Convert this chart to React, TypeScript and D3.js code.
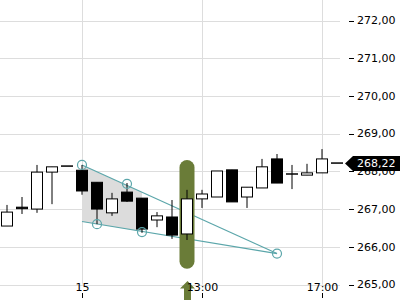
import React from "react";
import * as d3 from "d3";

// ---- data ----
const times = [
  "14 19:30", "14 20:00", "14 20:30", "14 21:00", "14 21:30",
  "15 09:00", "15 09:30", "15 10:00", "15 10:30", "15 11:00", "15 11:30",
  "15 12:00", "15 12:30", "15 13:00", "15 13:30", "15 14:00", "15 14:30",
  "15 15:00", "15 15:30", "15 16:00", "15 16:30", "15 17:00", "15 17:30",
];
const opens = [266.55, 267.05, 267.0, 267.98, 268.14, 268.03, 267.71, 266.9, 267.45, 267.29, 266.71, 266.79, 266.34, 267.27, 267.32, 268.04, 267.32, 267.56, 268.33, 267.93, 267.9, 267.96, 268.22];
const highs = [267.11, 267.32, 268.17, 268.12, 268.14, 268.17, 267.71, 267.43, 267.69, 267.29, 266.92, 267.24, 267.51, 267.51, 268.01, 268.04, 267.58, 268.33, 268.46, 268.17, 268.2, 268.59, 268.22];
const lows = [266.55, 266.87, 266.9, 267.13, 268.14, 267.38, 266.6, 266.82, 267.19, 266.37, 266.52, 266.21, 266.18, 267.03, 267.32, 267.19, 267.03, 267.56, 267.69, 267.53, 267.9, 267.96, 268.22];
const closes = [266.92, 267.01, 267.98, 268.12, 268.14, 267.48, 267.0, 267.27, 267.21, 266.47, 266.82, 266.31, 267.27, 267.4, 268.01, 267.19, 267.58, 268.12, 267.69, 267.93, 267.96, 268.33, 268.22];

const yTicks = [265, 266, 267, 268, 269, 270, 271, 272];
const xTickTimes = ["15 09:00", "15 13:00", "15 17:00"];
const xTickLabels = ["15", "13:00", "17:00"];

// triangle pattern
const patternStart = "15 09:00";
const patternApex = "15 15:30";
const upperStartPrice = 268.17;
const lowerStartPrice = 266.67;
const apexPrice = 265.82;
const shadeEnd = "15 11:00";
const touchTimes = ["15 09:00", "15 09:30", "15 10:30", "15 11:00", "15 15:30"];
const touchPrices = [268.17, 266.6, 267.67, 266.39, 265.82];

// signal highlight
const signalTime = "15 12:30";
const signalLow = 265.42;
const signalHigh = 268.3;

const W = 400;
const H = 300;
const teal = "#5ba6aa";
const olive = "#6a7c38";
const grid = "#dddddd";
const font = "DejaVu Sans, sans-serif";

const locale = d3.formatLocale({ decimal: ",", thousands: ".", grouping: [3], currency: ["", ""] });
const fmt = locale.format(".2f");

export default function App() {
  const x = d3.scaleBand<string>().domain(times).range([-0.5, -0.5 + 15 * times.length]).padding(0);
  const cx = (t: string) => (x(t) as number) + x.bandwidth() / 2;
  const y = d3.scaleLinear().domain([265, 272]).range([284.5, 20.5]);
  const plotRight = 340;
  const bodyW = 11;

  const idx = (t: string) => times.indexOf(t);
  const i0 = idx(patternStart);
  const i1 = idx(patternApex);
  const upperAt = (i: number) => upperStartPrice + (apexPrice - upperStartPrice) * (i - i0) / (i1 - i0);
  const lowerAt = (i: number) => lowerStartPrice + (apexPrice - lowerStartPrice) * (i - i0) / (i1 - i0);
  const iS = idx(shadeEnd);
  const shadePts: [number, number][] = [
    [cx(patternStart), y(upperAt(i0))],
    [cx(shadeEnd), y(upperAt(iS))],
    [cx(shadeEnd), y(lowerAt(iS))],
    [cx(patternStart), y(lowerAt(i0))],
  ];
  const lineGen = d3.line();

  const sc = cx(signalTime);
  const last = closes[closes.length - 1];
  const ly = Math.round(y(last)) + 0.5;

  return (
    <div style={{ position: "fixed", left: 0, top: 0 }}>
      <svg width={W} height={H} style={{ display: "block", background: "#fff" }}>
        {/* gridlines */}
        {yTicks.map((v) => (
          <line key={"gy" + v} x1={0} x2={plotRight} y1={Math.round(y(v)) + 0.5} y2={Math.round(y(v)) + 0.5} stroke={grid} strokeWidth={1} />
        ))}
        {xTickTimes.map((t) => (
          <line key={"gx" + t} x1={Math.round(cx(t)) + 0.5} x2={Math.round(cx(t)) + 0.5} y1={0} y2={y(265)} stroke={grid} strokeWidth={1} />
        ))}
        {/* pattern shading */}
        <path d={lineGen(shadePts) + "Z"} fill="#dcdcdc" />
        <line x1={cx(patternStart)} y1={y(upperStartPrice)} x2={cx(patternApex)} y2={y(apexPrice)} stroke={teal} strokeWidth={1.2} />
        <line x1={cx(patternStart)} y1={y(lowerStartPrice)} x2={cx(patternApex)} y2={y(apexPrice)} stroke={teal} strokeWidth={1.2} />
        {/* signal pill */}
        <rect x={sc - 7.5} y={y(signalHigh)} width={15} height={y(signalLow) - y(signalHigh)} rx={7.5} fill={olive} />
        {/* candles */}
        {times.map((t, i) => {
          const c = Math.round(cx(t));
          const o = opens[i], cl = closes[i], h = highs[i], l = lows[i];
          const up = cl >= o;
          const top = y(Math.max(o, cl));
          const bot = y(Math.min(o, cl));
          const doji = Math.abs(o - cl) < 0.005;
          return (
            <g key={t}>
              <line x1={c} x2={c} y1={y(h)} y2={y(l)} stroke="#000" strokeWidth={1} />
              {doji ? (
                <line x1={c - 6} x2={c + 6} y1={top} y2={top} stroke="#000" strokeWidth={1.5} />
              ) : (
                <rect x={c - bodyW / 2} y={top} width={bodyW} height={Math.max(1, bot - top)} fill={up ? "#fff" : "#000"} stroke="#000" strokeWidth={1} />
              )}
            </g>
          );
        })}
        {/* touch circles */}
        {touchTimes.map((t, i) => (
          <circle key={"c" + i} cx={cx(t)} cy={y(touchPrices[i])} r={4.5} fill="none" stroke={teal} strokeWidth={1.2} />
        ))}
        {/* signal arrow */}
        <path
          d={`M${sc + 0.5},281 L${sc + 8},288.5 L${sc + 4},288.5 L${sc + 4},300 L${sc - 3},300 L${sc - 3},288.5 L${sc - 7},288.5 Z`}
          fill={olive}
        />
        {/* x axis */}
        {xTickTimes.map((t, i) => (
          <g key={"xt" + t}>
            <line x1={Math.round(cx(t)) + 0.5} x2={Math.round(cx(t)) + 0.5} y1={293} y2={298} stroke="#000" />
            <text x={cx(t) + 0.5} y={291} textAnchor="middle" fontFamily={font} fontSize={11} fill="#000">
              {xTickLabels[i]}
            </text>
          </g>
        ))}
        {/* y axis */}
        {yTicks.map((v) => (
          <g key={"yt" + v}>
            <line x1={349} x2={354} y1={Math.round(y(v)) + 0.5} y2={Math.round(y(v)) + 0.5} stroke="#000" />
            <text x={357} y={y(v)} dy="0.35em" fontFamily={font} fontSize={11} fill="#000">
              {fmt(v)}
            </text>
          </g>
        ))}
        {/* last price label */}
        <path d={`M345,${ly} L353,${ly - 7.5} H400 V${ly + 7.5} H353 Z`} fill="#000" />
        <text x={357} y={ly} dy="0.35em" fontFamily={font} fontSize={11} fill="#fff">
          {fmt(last)}
        </text>
      </svg>
    </div>
  );
}
